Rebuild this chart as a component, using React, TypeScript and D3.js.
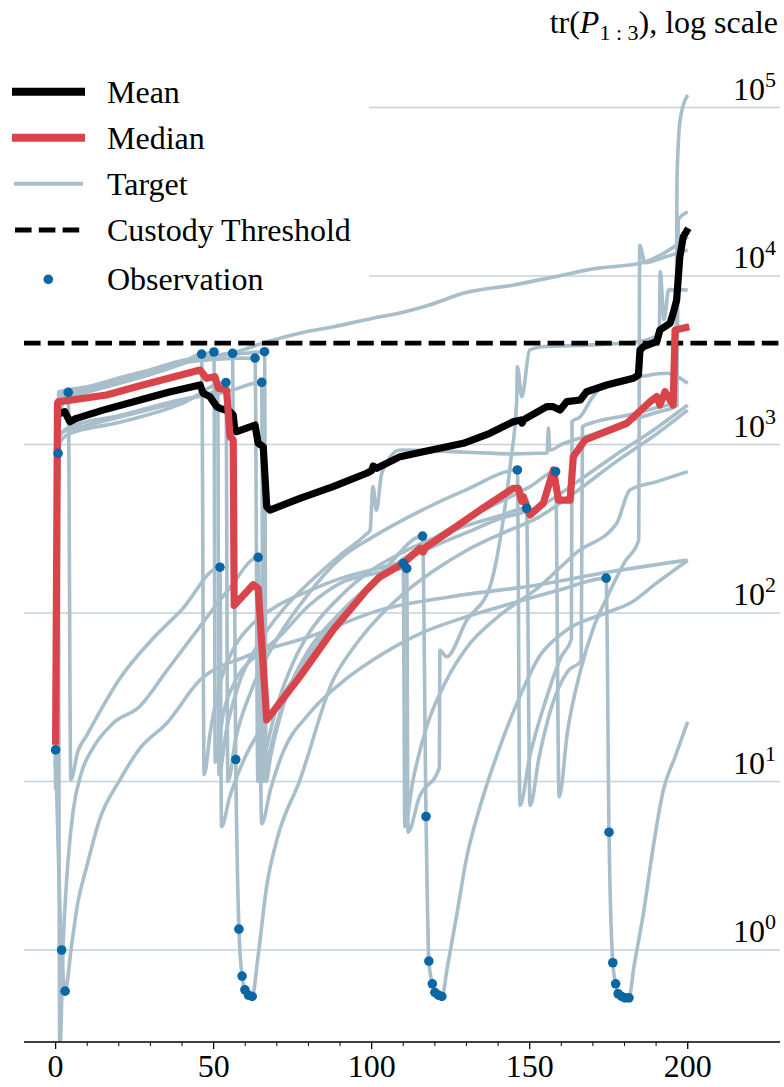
import React from 'react';
import * as d3 from 'd3';

const W = 784;
const H = 1087;

const xMajorTicks = [0, 50, 100, 150, 200];
const xMinorTicks = [10, 20, 30, 40, 60, 70, 80, 90, 110, 120, 130, 140, 160, 170, 180, 190];
const yTickExps = [0, 1, 2, 3, 4, 5];
const custodyThreshold = 4000;

type P = [number, number];

const meanSeries: P[] = [
  [1, 1520], [2.9, 1566], [4.5, 1365], [6.6, 1430], [15, 1600], [26.7, 1837], [36, 2050],
  [45.7, 2255], [46.7, 2014], [48.8, 1923], [51, 1675], [52, 1640], [55.2, 1566], [56.2, 1496],
  [56.7, 1219], [57.3, 1191], [63.1, 1305], [64.1, 1016], [65.7, 970], [66.8, 427], [67.8, 408],
  [77.3, 479], [87.8, 562], [98.4, 675], [100, 700], [100.5, 745], [101.6, 722], [109, 847],
  [116.3, 906], [129, 1016], [137.4, 1165], [144.8, 1366], [147.3, 1398], [147.6, 1340], [148, 1400],
  [155.4, 1677], [157.4, 1677], [159.6, 1602], [161.7, 1795], [166, 1837], [168, 2057], [174.4, 2255],
  [182.8, 2472], [184.4, 2585], [184.9, 3637], [186, 3804], [190.2, 4074], [191.2, 4783], [194.4, 5240],
  [195.4, 6007], [196.5, 7207], [197.5, 13000], [198.6, 17100], [200.2, 19200],
];

const medianSeries: P[] = [
  [0, 16.5], [0.6, 1755], [0.8, 1790], [16.1, 1967], [26.7, 2230], [45.7, 2767], [47.8, 2472],
  [50.4, 2525], [51.5, 2155], [54.1, 2105], [55.2, 1112], [56.2, 1063], [56.5, 111], [62.5, 147],
  [64.1, 140], [66.8, 23.2], [77.3, 41.9], [87.8, 79.3], [98.4, 137], [102.6, 164], [110, 197],
  [115.3, 242], [116.3, 230], [117, 245], [123.7, 297], [134.3, 408], [144.8, 550], [146.4, 550],
  [147.5, 460], [148, 490], [150.1, 382], [154.3, 448], [157.5, 706], [159.1, 468], [162.8, 468],
  [163.8, 847], [167.5, 1063], [180.7, 1336], [188.1, 1795], [190.2, 1923], [191.2, 1715],
  [192.8, 2057], [195.4, 1715], [196, 4783], [200.5, 5000],
];

const target01: P[] = [
  [0, 12], [1, 2000], [10, 2150], [20, 2450], [30, 2750], [40, 3100], [50, 3350], [56, 3500],
  [67, 4070], [80, 4700], [88, 5000], [100, 5600], [110, 6100], [118, 6700], [129, 7900],
  [145, 8850], [158, 9900], [171, 11100], [185, 11900], [192, 13500], [200, 17100],
];
const target02: P[] = [
  [0, 14], [1, 1900], [10, 2080], [20, 2350], [30, 2650], [40, 3050], [46.2, 3440], [47, 11],
  [49, 20], [52, 38], [56, 60], [62, 85], [70, 110], [80, 135], [90, 160], [100, 180], [110, 197],
  [110.5, 5.4], [113, 10], [117, 20], [123.7, 40], [130, 62], [140, 95], [153, 143], [165, 230],
  [177.5, 340], [181.7, 537], [190, 600], [200, 690],
];
const target03: P[] = [
  [0, 13], [1, 1850], [10, 2050], [20, 2300], [30, 2600], [40, 3000], [50.1, 3540], [50.5, 13],
  [53, 25], [57, 40], [63, 55], [70, 70], [80, 110], [90, 150], [100, 170], [111.1, 184],
  [111.5, 5.0], [115, 8], [121.4, 12], [121.6, 60], [123.7, 55], [130, 90], [137.4, 143],
  [141, 300], [144, 800], [145.9, 1837], [146.1, 2900], [147.5, 1920], [150, 3640], [154, 3800],
  [170, 3900], [184, 4070], [191, 4500], [191.3, 10600], [192.5, 5500], [194, 8300], [200, 8260],
];
const target05: P[] = [
  [0, 10], [1, 1000], [4, 1150], [20, 1350], [40, 1750], [53.9, 2330], [54.5, 10], [57, 18],
  [62, 35], [70, 70], [80, 130], [90, 210], [100, 280], [115, 400], [130, 540], [146.1, 706],
  [146.9, 7.2], [150, 14], [155, 30], [160, 55], [163.2, 70], [163.4, 1365], [166, 1462],
  [170, 1923], [174.4, 2307], [185, 2525], [193.4, 2645], [200, 2307],
];
const target06: P[] = [
  [0, 13], [1, 1950], [10, 2120], [20, 2400], [30, 2700], [40, 3080], [50, 3350], [56, 3475],
  [57, 13.5], [58, 1.33], [59, 0.7], [59.9, 0.58], [61, 0.54], [62.2, 0.53], [64, 0.9],
  [66.8, 2.4], [70, 4.5], [77.3, 10.2], [87.8, 40], [95, 65], [100, 85], [110, 130], [120, 180],
  [130, 235], [140, 290], [153, 372], [165, 530], [176.5, 770], [190, 1150], [200, 1600],
];
const target07: P[] = [
  [0, 12], [1, 2020], [10, 2180], [20, 2430], [30, 2720], [40, 3050], [50, 3200], [63.1, 3260],
  [64, 10], [66, 14], [70, 28], [75, 50], [80, 75], [90, 125], [100, 180], [110, 230], [120, 280],
  [130, 330], [140, 375], [149, 418], [150.1, 7.2], [153, 14], [157, 28], [162, 45], [166.3, 52],
  [166.7, 1275], [170, 1350], [180, 1480], [190, 1650], [196.3, 1800], [196.6, 37000],
  [197.6, 84300], [200, 118600],
];
const target08: P[] = [
  [0, 8.9], [0.8, 886], [1.3, 0.25], [2.5, 1.2], [4, 3.5], [5.6, 6.8], [8, 11], [12, 16], [18, 22],
  [26.7, 28], [35, 45], [45, 80], [55, 140], [64.1, 214], [65.2, 5.6], [68, 9], [72, 15], [80, 25],
  [90, 38], [100, 52], [115, 75], [130, 95], [145, 115], [160, 138], [174.2, 161], [175.1, 5.0],
  [176.3, 0.84], [177.2, 0.63], [178, 0.55], [179.1, 0.53], [180.2, 0.52], [181.4, 0.52],
  [183, 0.8], [186, 1.65], [189, 4], [192.3, 8.9], [196, 14], [200, 22.6],
];
const target09: P[] = [
  [0, 11], [1, 1100], [4, 1260], [20, 1480], [40, 1850], [54, 2050], [65.2, 2340], [65.7, 10],
  [67, 13], [70, 22], [75, 40], [80, 60], [90, 100], [100, 150], [110, 210], [120, 280], [130, 360],
  [140, 450], [150, 560], [158.2, 690], [159.3, 8.1], [162, 20], [166, 45], [170, 80], [175, 130],
  [180, 200], [184.5, 270], [184.8, 15200], [186.5, 12000], [193, 13000], [200, 14300],
];
const target10: P[] = [
  [0, 12], [1, 2050], [10, 2200], [20, 2480], [30, 2780], [40, 3150], [50, 3350], [60, 3480],
  [66.1, 3555], [66.6, 10], [68, 14], [72, 28], [80, 55], [90, 95], [100, 150], [110, 200],
  [120, 250], [130, 300], [140, 360], [153, 427], [165, 600], [176.5, 850], [190, 1250], [200, 1715],
];
const target11: P[] = [
  [0, 12], [1, 1150], [10, 1300], [20, 1450], [30, 1620], [40, 1800], [51.3, 2050], [51.7, 11],
  [54, 20], [58, 38], [64, 65], [72, 105], [80, 150], [90, 220], [98, 290], [99.5, 310],
  [100.4, 562], [101.5, 408], [103.2, 675], [109, 927], [130, 900], [145, 880], [155.5, 890],
  [155.9, 1250], [156.4, 927], [160, 1000], [170, 1150], [180, 1350], [190, 1550], [196.6, 1700],
  [197, 21500], [200, 24000],
];
const target18: P[] = [
  [0, 15.4], [1.9, 1.0], [3, 0.57], [5, 1.05], [7, 1.9], [9.8, 3.1], [14, 6], [20.3, 10.2],
  [27, 16], [35, 22], [45.7, 40], [60, 55], [80, 72], [102.6, 104], [125, 125], [153, 147],
  [175, 175], [200, 206],
];
const target19: P[] = [
  [0, 11], [1, 1250], [2, 1700], [4, 2040], [4.8, 10.2], [7, 15], [10, 19], [15, 28], [20, 40],
  [30, 68], [40, 105], [52, 187], [52.5, 5.4], [55, 8], [60, 14], [66, 22], [75, 40], [85, 70],
  [95, 120], [105, 190], [116.1, 286], [117.2, 6.2], [118.1, 0.86], [119.2, 0.63], [120, 0.56],
  [121.1, 0.54], [122.2, 0.53], [124, 0.8], [127, 1.65], [130, 3.5], [134.3, 7.1], [140, 15],
  [146.9, 32], [153, 55], [160, 75], [174, 100], [182, 115], [190, 150], [200, 205],
];

const targets: P[][] = [
  target01, target02, target03, target05, target06, target07, target08, target09, target10,
  target11, target18, target19,
];

const observations: P[] = [
  [0, 15.4], [0.8, 886], [1.9, 1.0], [3, 0.57], [4, 2040], [46.2, 3440], [50.1, 3540], [52, 187],
  [53.9, 2330], [56, 3475], [57, 13.5], [58, 1.33], [59, 0.7], [59.9, 0.58], [61, 0.54],
  [62.2, 0.53], [63.1, 3260], [64.1, 214], [65.2, 2340], [66.1, 3555], [110, 197], [111.1, 184],
  [116.1, 286], [117.2, 6.2], [118.1, 0.86], [119.2, 0.63], [120, 0.56], [121.1, 0.54],
  [122.2, 0.53], [146.1, 706], [149, 418], [158.2, 690], [174.2, 161], [175.1, 5.0], [176.3, 0.84],
  [177.2, 0.63], [178, 0.55], [179.1, 0.53], [180.2, 0.52], [181.4, 0.52],
];

const legendItems = ['Mean', 'Median', 'Target', 'Custody Threshold', 'Observation'];

const FONT = "'Liberation Serif', 'Times New Roman', serif";
const C_TARGET = '#a8bfcb';
const C_RED = '#d9444b';
const C_DOT = '#0a67a3';
const C_GRID = '#c3d1da';

export default function App() {
  const x = d3.scaleLinear().domain([-10, 229.2]).range([24, 780]);
  const y = d3.scaleLog().domain([1, 1e5]).range([950, 107.5]);
  const plotBottom = 1042;

  const smooth = d3
    .line<P>()
    .x((d) => x(d[0]))
    .y((d) => y(d[1]))
    .curve(d3.curveMonotoneX);
  const straight = d3
    .line<P>()
    .x((d) => x(d[0]))
    .y((d) => y(d[1]));

  const legendRowY = [91.7, 137.7, 183.7, 230, 279.3];

  return (
    <svg
      width={W}
      height={H}
      style={{ position: 'absolute', left: 0, top: 0, background: '#fff' }}
      fontFamily={FONT}
    >
      <defs>
        <clipPath id="plotClip">
          <rect x={24} y={0} width={756} height={plotBottom - 0.5} />
        </clipPath>
      </defs>

      {yTickExps.map((e) => (
        <line
          key={'g' + e}
          x1={24}
          x2={780}
          y1={y(Math.pow(10, e))}
          y2={y(Math.pow(10, e))}
          stroke={C_GRID}
          strokeWidth={1.4}
        />
      ))}

      <g clipPath="url(#plotClip)">
        {targets.map((t, i) => (
          <path
            key={'t' + i}
            d={smooth(t) || ''}
            fill="none"
            stroke={C_TARGET}
            strokeWidth={3.6}
            strokeLinejoin="round"
          />
        ))}
        <line
          x1={24}
          x2={780}
          y1={y(custodyThreshold)}
          y2={y(custodyThreshold)}
          stroke="#000"
          strokeWidth={4.8}
          strokeDasharray="16.6,7.2"
        />
        <path d={straight(meanSeries) || ''} fill="none" stroke="#000" strokeWidth={7.2} strokeLinejoin="round" />
        <path d={straight(medianSeries) || ''} fill="none" stroke={C_RED} strokeWidth={7.2} strokeLinejoin="round" />
        {observations.map((o, i) => (
          <circle key={'o' + i} cx={x(o[0])} cy={y(o[1])} r={4.8} fill={C_DOT} />
        ))}
      </g>

      {yTickExps.map((e) => (
        <text key={'yl' + e} x={776} y={y(Math.pow(10, e)) - 8} textAnchor="end" fontSize={32} fill="#000">
          10
          <tspan fontSize={22} dy={-13}>
            {String(e)}
          </tspan>
        </text>
      ))}

      <text x={778} y={33} textAnchor="end" fontSize={32} fill="#000">
        tr(
        <tspan fontStyle="italic">P</tspan>
        <tspan fontSize={22} dy={7}>
          1 : 3
        </tspan>
        <tspan dy={-7}>), log scale</tspan>
      </text>

      <line x1={24} x2={780} y1={plotBottom} y2={plotBottom} stroke="#000" strokeWidth={1.6} />
      {xMajorTicks.map((t) => (
        <g key={'xt' + t}>
          <line x1={x(t)} x2={x(t)} y1={plotBottom} y2={plotBottom + 7} stroke="#000" strokeWidth={1.3} />
          <text x={x(t)} y={1077} textAnchor="middle" fontSize={32} fill="#000">
            {t}
          </text>
        </g>
      ))}
      {xMinorTicks.map((t) => (
        <line key={'xm' + t} x1={x(t)} x2={x(t)} y1={plotBottom} y2={plotBottom + 4} stroke="#000" strokeWidth={1} />
      ))}

      <rect x={0} y={62} width={369} height={238} fill="#fff" />
      <line x1={12} x2={85} y1={legendRowY[0]} y2={legendRowY[0]} stroke="#000" strokeWidth={8} />
      <line x1={12} x2={85} y1={legendRowY[1]} y2={legendRowY[1]} stroke={C_RED} strokeWidth={8} />
      <line x1={14} x2={83} y1={legendRowY[2]} y2={legendRowY[2]} stroke={C_TARGET} strokeWidth={4} />
      <line
        x1={15}
        x2={82}
        y1={legendRowY[3]}
        y2={legendRowY[3]}
        stroke="#000"
        strokeWidth={4.8}
        strokeDasharray="16.6,7.2"
      />
      <circle cx={48.3} cy={legendRowY[4]} r={4.8} fill={C_DOT} />
      {legendItems.map((s, i) => (
        <text key={'lg' + i} x={107} y={legendRowY[i] + 11} fontSize={32} fill="#000">
          {s}
        </text>
      ))}
    </svg>
  );
}
